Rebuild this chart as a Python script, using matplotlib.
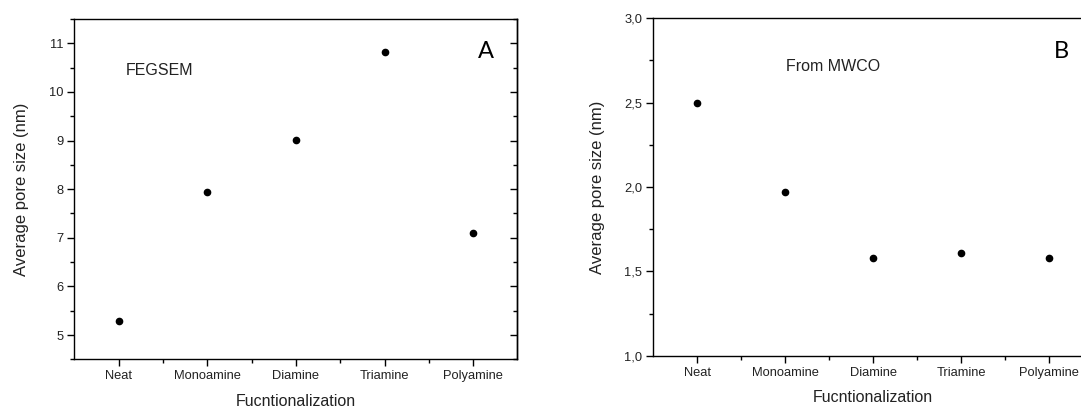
import matplotlib
matplotlib.use("Agg")
import matplotlib.pyplot as plt
from matplotlib.ticker import MultipleLocator, FixedLocator, FuncFormatter

plt.rcParams["font.family"] = ["Liberation Sans", "DejaVu Sans"]

categories = ["Neat", "Monoamine", "Diamine", "Triamine", "Polyamine"]
fegsem_size = [5.28, 7.95, 9.02, 10.82, 7.09]
mwco_size = [2.50, 1.97, 1.58, 1.61, 1.58]

TICK_FS = 9.3
LABEL_FS = 11.5
TEXT_C = "#222222"


def style_axes(ax, ylim, major, minor, right_ticks=True):
    positions = list(range(1, len(categories) + 1))
    ax.set_xlim(0.5, len(categories) + 0.5)
    ax.set_ylim(*ylim)
    ax.set_xticks(positions)
    ax.set_xticklabels(categories)
    ax.xaxis.set_minor_locator(FixedLocator([p + 0.5 for p in positions[:-1]]))
    ax.yaxis.set_major_locator(MultipleLocator(major))
    ax.yaxis.set_minor_locator(MultipleLocator(minor))
    ax.tick_params(axis="both", which="major", direction="out", length=5,
                   width=1, labelsize=TICK_FS, colors="black",
                   labelcolor=TEXT_C, pad=3)
    ax.tick_params(axis="both", which="minor", direction="out", length=3,
                   width=1)
    ax.tick_params(axis="x", which="both", top=False)
    if right_ticks:
        # Right spine carries inward-facing ticks, without labels
        sec = ax.secondary_yaxis("right")
        sec.yaxis.set_major_locator(MultipleLocator(major))
        sec.yaxis.set_minor_locator(MultipleLocator(minor))
        sec.tick_params(which="major", direction="in", length=5, width=1,
                        labelright=False)
        sec.tick_params(which="minor", direction="in", length=3, width=1)
        sec.spines["right"].set_linewidth(1.0)
    for sp in ax.spines.values():
        sp.set_linewidth(1.0)
    ax.set_xlabel("Fucntionalization", fontsize=LABEL_FS, color=TEXT_C,
                  labelpad=8)
    ax.set_ylabel("Average pore size (nm)", fontsize=12, color=TEXT_C,
                  labelpad=14)


fig = plt.figure(figsize=(10.81, 4.09), dpi=100)

# Panel A: FEGSEM pore sizes
ax_a = fig.add_axes([0.0689, 0.1215, 0.4098, 0.832])
ax_a.plot(range(1, 6), fegsem_size, "o", color="black", markersize=4.5)
style_axes(ax_a, (4.5, 11.5), 1, 0.5, right_ticks=True)
ax_a.text(0.116, 0.850, "FEGSEM", transform=ax_a.transAxes,
          fontsize=LABEL_FS, color=TEXT_C, va="center", ha="left")
ax_a.text(0.928, 0.904, "A", transform=ax_a.transAxes, family="Lato",
          fontsize=17, va="center", ha="center")

# Panel B: pore sizes from MWCO (right edge runs past the figure)
ax_b = fig.add_axes([0.6044, 0.1303, 0.4068, 0.825])
ax_b.plot(range(1, 6), mwco_size, "o", color="black", markersize=4.5)
style_axes(ax_b, (1.0, 3.0), 0.5, 0.25, right_ticks=False)
ax_b.yaxis.set_major_formatter(
    FuncFormatter(lambda v, _: f"{v:.1f}".replace(".", ",")))
ax_b.text(0.301, 0.857, "From MWCO", transform=ax_b.transAxes,
          fontsize=LABEL_FS, color=TEXT_C, va="center", ha="left")
ax_b.text(0.929, 0.901, "B", transform=ax_b.transAxes, family="Lato",
          fontsize=17, va="center", ha="center")

fig.savefig("out.png", dpi=100)
